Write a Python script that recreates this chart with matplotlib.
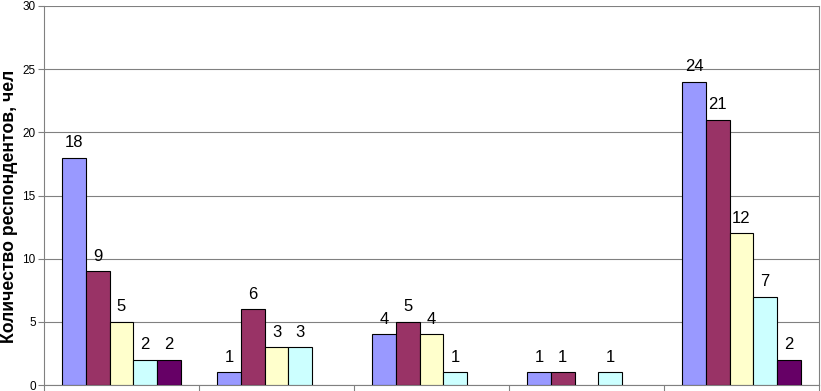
import numpy as np
import matplotlib.pyplot as plt

plt.rcParams['font.family'] = ['Liberation Sans', 'DejaVu Sans']

groups = ['1', '2', '3', '4', '5']
series = [
    [18, 1, 4, 1, 24],
    [9, 6, 5, 1, 21],
    [5, 3, 4, 0, 12],
    [2, 3, 1, 1, 7],
    [2, 0, 0, 0, 2],
]
colors = ['#9999FF', '#993366', '#FFFFCC', '#CCFFFF', '#660066']

fig = plt.figure(figsize=(8.21, 3.91), dpi=100)
ax = fig.add_axes([0.0536, 0.0153, 0.9440, 0.9694])

x = np.arange(len(groups))
w = 0.153
for i, vals in enumerate(series):
    pos = x + (i - 2) * w
    for p, v in zip(pos, vals):
        if v == 0:
            continue
        ax.bar(p, v, width=w, color=colors[i], edgecolor='black', linewidth=0.8, zorder=3)
        ax.text(p, v + 0.6, str(v), ha='center', va='bottom', fontsize=12, zorder=4)

ax.set_xlim(-0.5, len(groups) - 0.5)
ax.set_ylim(0, 30)
ax.set_yticks(range(0, 31, 5))
ax.tick_params(axis='y', labelsize=8.5, length=4, color='#808080', pad=2)
ax.set_xticks(np.arange(-0.5, len(groups), 1))
ax.set_xticklabels([])
ax.tick_params(axis='x', length=5, color='#808080')
ax.grid(axis='y', color='#808080', linewidth=0.8, zorder=0)
for s in ax.spines.values():
    s.set_color('#808080')
ax.spines['top'].set_visible(False)
fig.text(0.012, 0.473, 'Количество респондентов, чел', rotation=90,
         ha='center', va='center', fontsize=12.7, fontweight='bold')

fig.savefig('out.png', dpi=100)
